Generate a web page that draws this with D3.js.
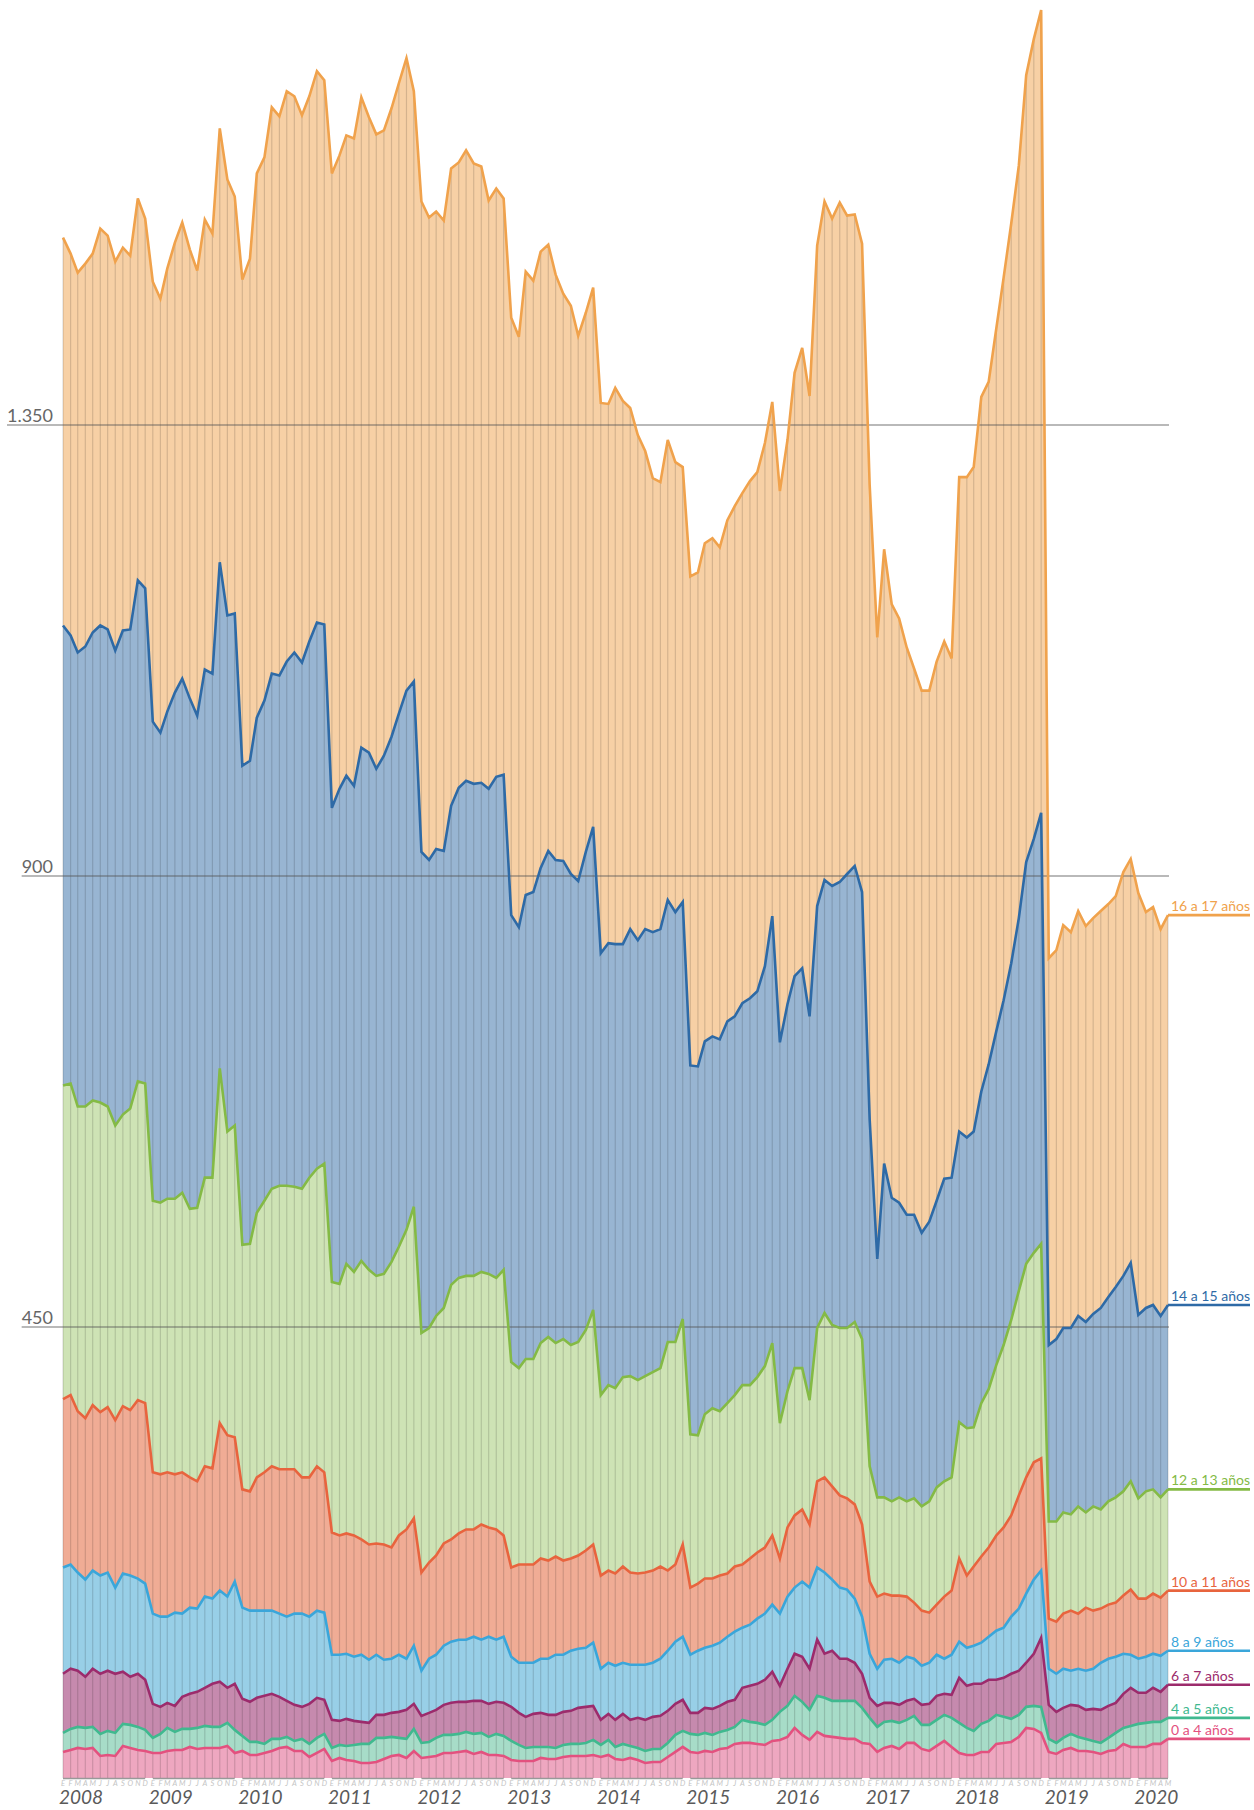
<!DOCTYPE html>
<html>
<head>
<meta charset="utf-8">
<script src="https://cdn.jsdelivr.net/npm/d3@7"></script>
<style>
  body { margin: 0; background: #fff; }
  svg { display: block; font-family: Lato, "Open Sans", sans-serif; }
</style>
</head>
<body>
<svg id="chart"></svg>
<script>
// valores mensuales, enero 2008 - mayo 2020
const edad0a4 = [26,28,30,29,30,22,23,22,32,30,28,27, 25,25,27,28,28,31,29,30,30,30,32,25,
  27,23,23,25,27,30,31,27,27,21,25,29, 17,20,18,17,15,15,16,19,22,23,20,27,
  20,21,22,25,25,26,27,24,26,23,23,22, 18,17,17,17,20,19,19,21,22,22,22,23,
  21,23,19,18,20,18,15,16,16,21,26,31, 26,25,27,26,29,30,34,35,35,34,33,37,
  38,41,50,43,38,46,42,41,40,39,39,35, 34,26,30,32,29,35,35,29,27,32,37,31,
  25,23,23,26,26,34,35,36,41,50,49,45, 26,24,28,30,27,27,26,24,27,28,34,31,
  31,31,34,34,39];
const edad4a5 = [19,21,21,21,21,22,24,23,22,23,23,21, 15,19,23,18,21,18,21,22,21,21,23,23,
  15,13,13,9,12,9,10,10,12,13,15,15, 13,13,14,16,19,19,24,21,19,17,19,22,
  15,15,18,18,18,18,19,20,19,18,21,20, 19,16,13,14,11,12,11,12,12,12,13,15,
  12,15,12,16,12,12,12,13,13,14,17,16, 18,18,18,17,17,18,17,23,21,21,20,21,
  28,31,32,33,30,36,38,36,37,38,38,35, 26,25,26,25,26,23,27,24,26,26,26,29,
  30,27,24,28,31,29,26,23,22,21,23,26, 13,11,12,14,14,12,11,11,13,17,16,21,
  23,24,22,22,21];
const edad6a7 = [59,60,56,51,58,60,60,59,52,48,53,50, 34,27,25,26,32,35,36,38,43,45,35,46,
  37,40,44,48,45,42,36,36,32,40,40,34, 28,24,27,24,22,21,23,23,24,26,29,25,
  27,29,28,30,32,32,30,33,32,33,32,33, 34,32,31,33,34,32,33,33,33,36,36,34,
  25,26,27,30,26,30,31,32,33,32,31,31, 21,22,25,26,26,28,27,32,36,39,45,48,
  26,37,42,45,41,56,44,50,42,42,38,34, 20,21,19,18,18,19,17,20,21,24,21,23,
  45,42,47,40,41,35,39,45,44,44,52,69, 34,31,30,29,31,29,32,33,32,30,34,38,
  31,30,34,30,33];
const edad8a9 = [106,104,98,97,98,98,98,86,98,101,95,96, 90,90,86,93,83,86,83,91,85,91,91,102,
  91,91,87,85,83,83,84,91,93,87,87,87, 65,66,65,64,67,63,60,55,54,57,51,58,
  45,54,55,59,61,62,62,64,61,67,62,66, 50,50,54,51,54,56,60,57,60,59,59,63,
  51,51,54,51,55,53,55,54,57,60,62,63, 58,62,60,63,63,65,68,60,61,65,66,67,
  72,72,66,75,81,72,81,71,71,69,64,57, 44,37,43,44,42,44,40,39,41,41,35,40,
  36,38,38,41,43,49,50,57,62,69,74,67, 36,38,39,34,37,39,40,47,47,46,40,33,
  34,36,34,36,34];
const edad10a11 = [168,169,161,161,165,163,165,167,167,165,178,180, 141,142,144,138,141,130,127,130,130,167,161,144,
  118,119,133,138,144,144,147,144,136,139,144,140, 122,119,120,121,115,115,111,115,111,119,129,127,
  98,96,99,102,102,106,110,107,115,109,110,101, 89,98,98,98,100,98,98,94,92,93,97,98,
  93,92,92,96,92,91,92,92,92,80,77,92, 67,67,69,67,67,63,65,63,66,66,66,69,
  55,69,72,72,63,86,95,93,92,91,94,92, 72,72,66,63,67,60,56,55,50,50,62,64,
  83,72,79,86,89,95,100,101,113,116,117,112, 50,52,55,60,55,63,58,54,54,54,58,65,
  60,58,60,58,60];
const edad12a13 = [313,311,304,311,304,309,300,294,291,301,318,319, 271,271,273,275,279,268,273,288,290,354,303,311,
  244,247,264,271,277,283,283,282,288,299,297,308, 250,251,269,263,278,274,267,270,285,288,299,311,
  239,234,239,235,254,255,253,253,252,253,251,265, 205,196,205,205,215,223,213,221,213,213,220,234,
  180,185,185,189,196,193,196,198,198,228,222,225, 153,148,164,170,164,170,171,179,173,175,181,192,
  135,136,147,141,124,153,164,161,167,170,182,185, 115,99,96,94,98,95,104,104,111,117,115,113,
  136,147,139,153,158,170,182,195,204,213,209,214, 97,100,101,96,107,95,104,99,103,105,104,108,
  100,107,104,100,101];
const edad14a15 = [459,447,453,459,467,476,476,474,483,478,500,494, 478,469,486,505,513,509,491,507,503,505,515,511,
  478,482,494,499,514,509,523,533,525,535,545,538, 473,494,487,485,512,516,506,517,524,532,538,524,
  480,467,466,456,478,489,494,491,488,484,500,494, 446,440,463,466,474,485,482,477,470,460,477,482,
  441,441,443,432,446,439,446,439,438,441,429,416, 368,368,372,371,371,381,378,381,386,385,399,426,
  380,386,391,399,383,421,432,438,445,453,455,446, 346,238,333,303,294,286,283,273,279,286,302,299,
  290,290,295,311,324,333,344,356,372,401,413,430, 176,182,184,186,190,190,192,201,204,210,215,218,
  183,183,184,181,184];
const edad16a17 = [387,381,379,382,378,396,393,388,382,373,381,369, 439,433,442,449,455,448,444,449,439,433,435,416,
  485,501,543,542,565,558,569,555,546,544,550,543, 633,632,639,646,649,634,633,624,627,629,631,589,
  649,641,636,629,636,624,629,619,615,587,587,575, 596,589,622,610,615,605,584,566,567,544,538,538,
  549,538,555,542,520,504,477,453,446,459,449,434, 488,493,497,497,491,500,509,509,516,518,522,513,
  550,563,602,619,619,659,677,666,678,657,650,647, 633,620,613,592,583,566,545,541,530,538,536,518,
  653,659,663,693,681,701,721,738,751,785,798,801, 386,388,402,395,404,395,395,396,392,390,403,403,
  421,395,397,386,389];

const grupos = ["0 a 4 años", "4 a 5 años", "6 a 7 años", "8 a 9 años",
                "10 a 11 años", "12 a 13 años", "14 a 15 años", "16 a 17 años"];
const yTicks = [450, 900, 1350];
const years = ["2008","2009","2010","2011","2012","2013","2014","2015","2016","2017","2018","2019","2020"];
const monthLetters = ["E","F","M","A","M","J","J","A","S","O","N","D"];

const strokeColors = ["#e3517f","#40b98f","#9c2b6c","#3aa6da","#e8643e","#84ba45","#2e6aa6","#f0a24c"];
const fillColors   = ["#eea7c0","#a7dcc8","#c68aae","#98cfe7","#f0ac95","#cee3b5","#98b5d2","#f7d0a5"];

const width = 1254, height = 1810;
const svg = d3.select("#chart").attr("width", width).attr("height", height);

const series = [edad0a4, edad4a5, edad6a7, edad8a9, edad10a11, edad12a13, edad14a15, edad16a17];
const meses = d3.timeMonth.range(new Date(2008, 0, 1), new Date(2020, 5, 1));

const x = d3.scaleTime().domain([meses[0], meses[meses.length - 1]]).range([63, 1168]);
const y = d3.scaleLinear().domain([0, 1350]).range([1778, 425]);

const rows = meses.map((d, i) => {
    const r = { date: d };
    series.forEach((s, k) => r[k] = s[i]);
    return r;
});
const stacked = d3.stack().keys(d3.range(series.length))(rows);

const area = d3.area()
    .x(d => x(d.data.date))
    .y0(d => y(d[0]))
    .y1(d => y(d[1]));

const line = d3.line()
    .x(d => x(d.data.date))
    .y(d => y(d[1]));

// areas
svg.append("g")
    .selectAll("path")
    .data(stacked)
    .join("path")
    .attr("fill", (d, i) => fillColors[i])
    .attr("d", area);

// rayas mensuales
const capaSuperior = stacked[stacked.length - 1];
svg.append("g")
    .attr("stroke", "#000")
    .attr("stroke-opacity", 0.14)
    .attr("stroke-width", 1.2)
    .selectAll("line")
    .data(capaSuperior)
    .join("line")
    .attr("x1", d => x(d.data.date))
    .attr("x2", d => x(d.data.date))
    .attr("y1", y(0))
    .attr("y2", d => y(d[1]));

// lineas de referencia
const grid = svg.append("g");
yTicks.forEach(v => {
    const t = grid.append("text")
        .attr("x", 53)
        .attr("y", y(v) - 3)
        .attr("text-anchor", "end")
        .attr("font-size", 18)
        .attr("fill", "#666")
        .text(d3.format(",")(v).replace(",", "."));
    const w = t.node().getComputedTextLength();
    grid.append("line")
        .attr("x1", 53 - w)
        .attr("x2", 1169)
        .attr("y1", y(v))
        .attr("y2", y(v))
        .attr("stroke", "#555")
        .attr("stroke-opacity", 0.55)
        .attr("stroke-width", 1.6);
});

// lineas de cada grupo
svg.append("g")
    .attr("fill", "none")
    .attr("stroke-width", 2.6)
    .attr("stroke-linejoin", "miter")
    .selectAll("path")
    .data(stacked)
    .join("path")
    .attr("stroke", (d, i) => strokeColors[i])
    .attr("d", line);

// leyenda a la derecha
const leg = svg.append("g");
stacked.forEach((s, i) => {
    const last = s[s.length - 1];
    const ly = y(last[1]);
    leg.append("line")
        .attr("x1", x(last.data.date))
        .attr("x2", 1250)
        .attr("y1", ly)
        .attr("y2", ly)
        .attr("stroke", strokeColors[i])
        .attr("stroke-width", 2.6);
    leg.append("text")
        .attr("x", 1171)
        .attr("y", ly - 4)
        .attr("font-size", 14)
        .attr("fill", strokeColors[i])
        .text(grupos[i]);
});

// eje x
const axis = svg.append("g");
years.forEach(yr => {
    const ms = meses.filter(d => d.getFullYear() === +yr);
    axis.append("line")
        .attr("x1", x(ms[0]))
        .attr("x2", x(ms[ms.length - 1]))
        .attr("y1", y(0) + 0.5)
        .attr("y2", y(0) + 0.5)
        .attr("stroke", "#999")
        .attr("stroke-width", 1.5);
    axis.append("text")
        .attr("x", x(ms[0]) - 4)
        .attr("y", 1804)
        .attr("font-size", 19)
        .attr("font-style", "italic")
        .attr("fill", "#5a5a5a")
        .text(yr);
});
axis.append("g")
    .selectAll("text")
    .data(meses)
    .join("text")
    .attr("x", d => x(d))
    .attr("y", 1786)
    .attr("text-anchor", "middle")
    .attr("font-size", 7.5)
    .attr("font-style", "italic")
    .attr("fill", "#c4c4c4")
    .text(d => monthLetters[d.getMonth()]);
</script>
</body>
</html>
